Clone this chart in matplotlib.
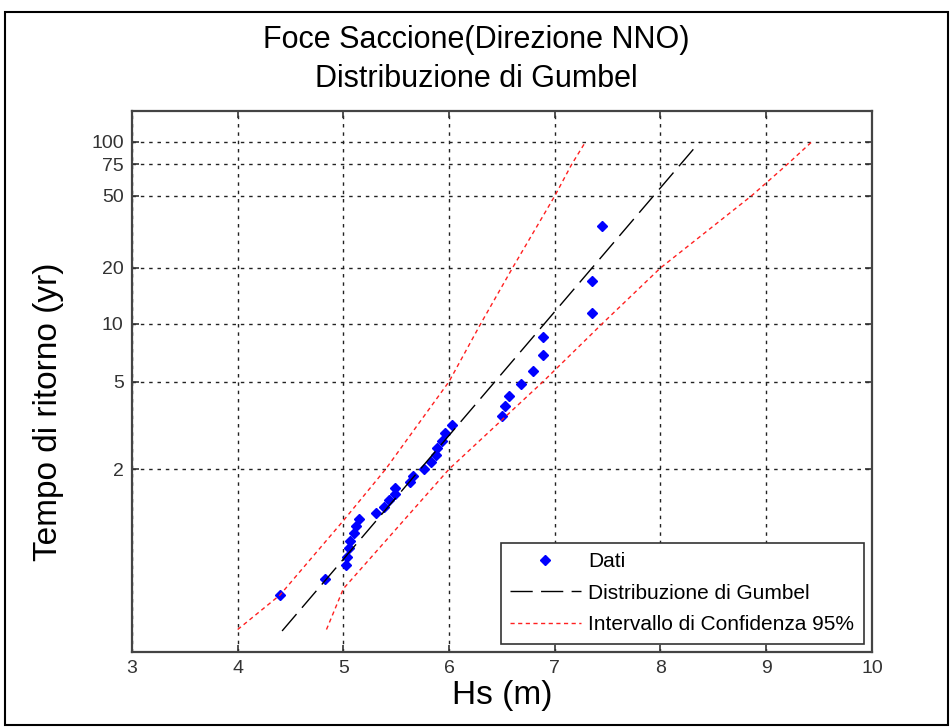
import numpy as np
import matplotlib
matplotlib.use('Agg')
import matplotlib.pyplot as plt
from matplotlib.patches import Rectangle

plt.rcParams['font.family'] = ['Liberation Sans', 'DejaVu Sans']

# dati osservati: Hs (m) e tempo di ritorno (anni)
hs_dati = [7.45, 7.35, 7.35, 6.89, 6.89, 6.79, 6.68, 6.57, 6.53, 6.50,
           6.03, 5.96, 5.93, 5.89, 5.88, 5.83, 5.76, 5.66, 5.63, 5.49,
           5.49, 5.43, 5.38, 5.31, 5.15, 5.12, 5.10, 5.06, 5.05, 5.03,
           5.02, 4.83, 4.40]
tr_dati = [34.0, 17.0, 11.33, 8.5, 6.8, 5.67, 4.86, 4.25, 3.78, 3.4,
           3.09, 2.83, 2.62, 2.43, 2.27, 2.13, 2.0, 1.89, 1.79, 1.7,
           1.62, 1.55, 1.48, 1.42, 1.36, 1.31, 1.26, 1.21, 1.17, 1.13,
           1.10, 1.06, 1.03]

# retta di Gumbel
hs_gumbel = [4.42, 8.37]
tr_gumbel = [1.0036, 100]

# intervallo di confidenza 95%
tr_ci_sup = [1.004, 1.03, 1.35, 2, 5, 10, 20, 50, 75, 100]
hs_ci_sup = [4.0, 4.4, 5.0, 5.4, 6.0, 6.3, 6.6, 7.0, 7.16, 7.29]
tr_ci_inf = [1.004, 1.04, 2, 5, 10, 20, 50, 75, 100]
hs_ci_inf = [4.84, 5.0, 6.0, 6.89, 7.45, 8.0, 8.86, 9.2, 9.43]

tr_ticks = [2, 5, 10, 20, 50, 75, 100]


# scala di Gumbel: variabile ridotta y = -ln(-ln(1 - 1/T))
def fwd(t):
    t = np.asarray(t, dtype=float)
    with np.errstate(all='ignore'):
        return -np.log(-np.log(1.0 - 1.0 / t))


def inv(y):
    y = np.asarray(y, dtype=float)
    with np.errstate(all='ignore'):
        return 1.0 / (1.0 - np.exp(-np.exp(-y)))


fig = plt.figure(figsize=(9.51, 7.27), dpi=100)
ax = fig.add_axes([0.1388, 0.1032, 0.778, 0.744])
ax.set_yscale('function', functions=(fwd, inv))

ax.plot(hs_dati, tr_dati, linestyle='none', marker='D', markersize=5.5,
        color='#0000ff', label='Dati')
ax.plot(hs_gumbel, tr_gumbel, color='black', lw=1, dashes=(16, 6),
        label='Distribuzione di Gumbel')
ax.plot(hs_ci_sup, tr_ci_sup, color='#ff2020', lw=1, dashes=(3, 2.5),
        label='Intervallo di Confidenza 95%')
ax.plot(hs_ci_inf, tr_ci_inf, color='#ff2020', lw=1, dashes=(3, 2.5))

ax.set_xlim(3, 10)
ax.set_ylim(inv(-2.0), inv(5.0))
ax.set_xticks(range(3, 11))
ax.set_yticks(tr_ticks)
ax.set_yticklabels([str(t) for t in tr_ticks])
ax.yaxis.set_minor_locator(matplotlib.ticker.NullLocator())

ax.grid(True, color='#222222', lw=1, dashes=(2.5, 3.5))
ax.tick_params(direction='in', length=5, width=1.2, top=True, right=True,
               labelsize=14, colors='#333333', labelcolor='#333333', pad=6)
for s in ax.spines.values():
    s.set_linewidth(1.6)
    s.set_color('#444444')

ax.set_xlabel('Hs (m)', fontsize=24, labelpad=2)
ax.set_ylabel('Tempo di ritorno (yr)', fontsize=24)
ax.yaxis.set_label_coords(-0.092, 0.444)
ax.set_title('Foce Saccione(Direzione NNO)\nDistribuzione di Gumbel',
             fontsize=22, pad=17, linespacing=1.4, x=0.465)

leg = ax.legend(loc='lower right', fontsize=15, handlelength=3.4,
                handletextpad=0.35, fancybox=False, framealpha=1,
                edgecolor='#333333', borderaxespad=0.4, labelspacing=0.6,
                borderpad=0.45)
leg.get_frame().set_linewidth(1.2)

# cornice esterna
fig.patches.append(Rectangle((5 / 951, 2 / 727), 943 / 951, 713 / 727,
                             transform=fig.transFigure, fill=False,
                             edgecolor='black', lw=1.5))

fig.savefig('out.png', dpi=100)
